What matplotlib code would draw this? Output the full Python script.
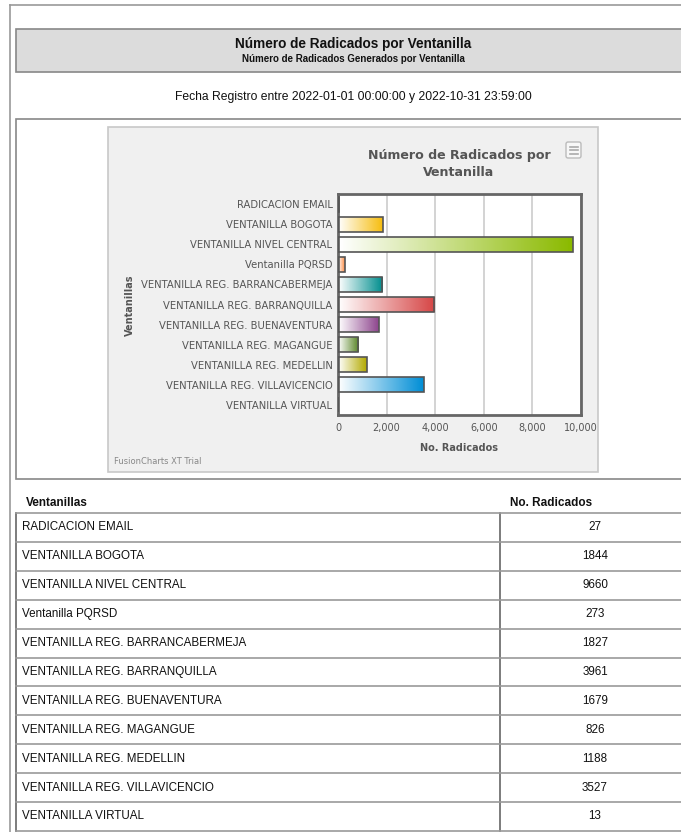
import numpy as np
import matplotlib
matplotlib.use("Agg")
import matplotlib.pyplot as plt
from matplotlib import font_manager
from matplotlib.patches import Rectangle, FancyBboxPatch
from matplotlib.colors import LinearSegmentedColormap

# Datos
ventanillas = ["RADICACION EMAIL", "VENTANILLA BOGOTA", "VENTANILLA NIVEL CENTRAL",
               "Ventanilla PQRSD", "VENTANILLA REG. BARRANCABERMEJA",
               "VENTANILLA REG. BARRANQUILLA", "VENTANILLA REG. BUENAVENTURA",
               "VENTANILLA REG. MAGANGUE", "VENTANILLA REG. MEDELLIN",
               "VENTANILLA REG. VILLAVICENCIO", "VENTANILLA VIRTUAL"]
radicados = [27, 1844, 9660, 273, 1827, 3961, 1679, 826, 1188, 3527, 13]
colores = ["#AFD8F8", "#F6BD0F", "#8BBA00", "#FF8E46", "#008E8E", "#D64646",
           "#8E468E", "#588526", "#B3AA00", "#008ED6", "#9D080D"]
xticks = [0, 2000, 4000, 6000, 8000, 10000]

W, H = 681, 832
fig = plt.figure(figsize=(W / 100, H / 100), dpi=100)

nombres = {f.name for f in font_manager.fontManager.ttflist}
html_font = "Liberation Sans Narrow" if "Liberation Sans Narrow" in nombres else "Liberation Sans"
fc_font = "DejaVu Sans"

# fondo en pixeles
bg = fig.add_axes([0, 0, 1, 1])
bg.set_xlim(0, W)
bg.set_ylim(H, 0)
bg.axis("off")

# marco exterior
bg.plot([10, 10], [5, H], color="#999999", lw=1.2)
bg.plot([10, W], [5, 5], color="#999999", lw=1.2)

# cabecera gris
bg.add_patch(Rectangle((16, 28.5), W, 43.5, facecolor="#dcdcdc", edgecolor="#888888", lw=1.2))
bg.text(353, 44, "Número de Radicados por Ventanilla", ha="center", va="center",
        fontsize=9.8, fontweight="bold", family=html_font, color="#111111")
bg.text(353, 59, "Número de Radicados Generados por Ventanilla", ha="center", va="center",
        fontsize=7, fontweight="bold", family=html_font, color="#111111")
bg.text(353, 97, "Fecha Registro entre 2022-01-01 00:00:00 y 2022-10-31 23:59:00",
        ha="center", va="center", fontsize=8.7, family=html_font, color="#111111")

# caja de la grafica
bg.add_patch(Rectangle((16, 119), W, 360, facecolor="white", edgecolor="#888888", lw=1.2))
bg.add_patch(Rectangle((108, 127), 490, 345, facecolor="#f0f0f0", edgecolor="#c8c8c8", lw=1.2))
bg.text(459, 155, "Número de Radicados por", ha="center", va="center", fontsize=9.1,
        fontweight="bold", family=fc_font, color="#555555")
bg.text(459, 173, "Ventanilla", ha="center", va="center", fontsize=9.1,
        fontweight="bold", family=fc_font, color="#555555")
bg.add_patch(FancyBboxPatch((566, 142), 15, 16, boxstyle="round,pad=0,rounding_size=2",
                            facecolor="#f7f7f7", edgecolor="#bbbbbb", lw=1))
for yy in (146.5, 150, 153.5):
    bg.plot([569.5, 577.5], [yy, yy], color="#aaaaaa", lw=1.2)
bg.text(130, 305, "Ventanillas", rotation=90, ha="center", va="center", fontsize=7,
        fontweight="bold", family=fc_font, color="#555555")
bg.text(459, 448, "No. Radicados", ha="center", va="center", fontsize=7,
        fontweight="bold", family=fc_font, color="#555555")
bg.text(114, 462, "FusionCharts XT Trial", ha="left", va="center", fontsize=6,
        family=fc_font, color="#888888")

# area de la grafica
L, R, T, B = 338, 581, 194, 415
ax = fig.add_axes([L / W, 1 - B / H, (R - L) / W, (B - T) / H])
ax.set_facecolor("white")
y = np.arange(len(ventanillas))
bars = ax.barh(y, radicados, height=0.75, color="none", edgecolor="#555555", lw=1.2, zorder=3)
for b, c in zip(bars, colores):
    cmap = LinearSegmentedColormap.from_list("g", ["#ffffff", c])
    x0, y0, w, h = b.get_x(), b.get_y(), b.get_width(), b.get_height()
    im = ax.imshow(np.linspace(0, 1, 64).reshape(1, -1), cmap=cmap, aspect="auto",
                   extent=[x0, x0 + w, y0 + h, y0], zorder=2, interpolation="bilinear")
    im.set_clip_path(b)
ax.set_xlim(0, 10000)
ax.set_ylim(len(ventanillas) - 0.5, -0.5)
ax.set_xticks(xticks)
ax.set_xticklabels([f"{v:,}" for v in xticks])
ax.set_yticks(y)
ax.set_yticklabels(ventanillas)
ax.tick_params(axis="y", length=0, labelsize=7.2, labelcolor="#555555", pad=4)
ax.tick_params(axis="x", length=0, labelsize=7, labelcolor="#555555", pad=6)
for lab in ax.get_xticklabels() + ax.get_yticklabels():
    lab.set_family(fc_font)
ax.grid(axis="x", color="#cccccc", lw=1.2, zorder=1)
for s in ax.spines.values():
    s.set_color("#666666")
    s.set_linewidth(2)

# tabla
bg.text(26, 503, "Ventanillas", ha="left", va="center", fontsize=8.5, fontweight="bold",
        family=html_font, color="#111111")
bg.text(551, 503, "No. Radicados", ha="center", va="center", fontsize=8.5, fontweight="bold",
        family=html_font, color="#111111")
top, rh = 513, 28.9
n = len(ventanillas)
bg.plot([16, 16], [top, top + n * rh], color="#666666", lw=1.2)
bg.plot([500, 500], [top, top + n * rh], color="#666666", lw=1.2)
for i in range(n + 1):
    bg.plot([16, W], [top + i * rh, top + i * rh], color="#999999", lw=1.2)
for i, (nom, val) in enumerate(zip(ventanillas, radicados)):
    yc = top + (i + 0.5) * rh
    bg.text(22, yc, nom, ha="left", va="center", fontsize=8.4, family=html_font, color="#111111")
    bg.text(595, yc, str(val), ha="center", va="center", fontsize=8.4, family=html_font,
            color="#111111")

fig.savefig("out.png", dpi=100)
